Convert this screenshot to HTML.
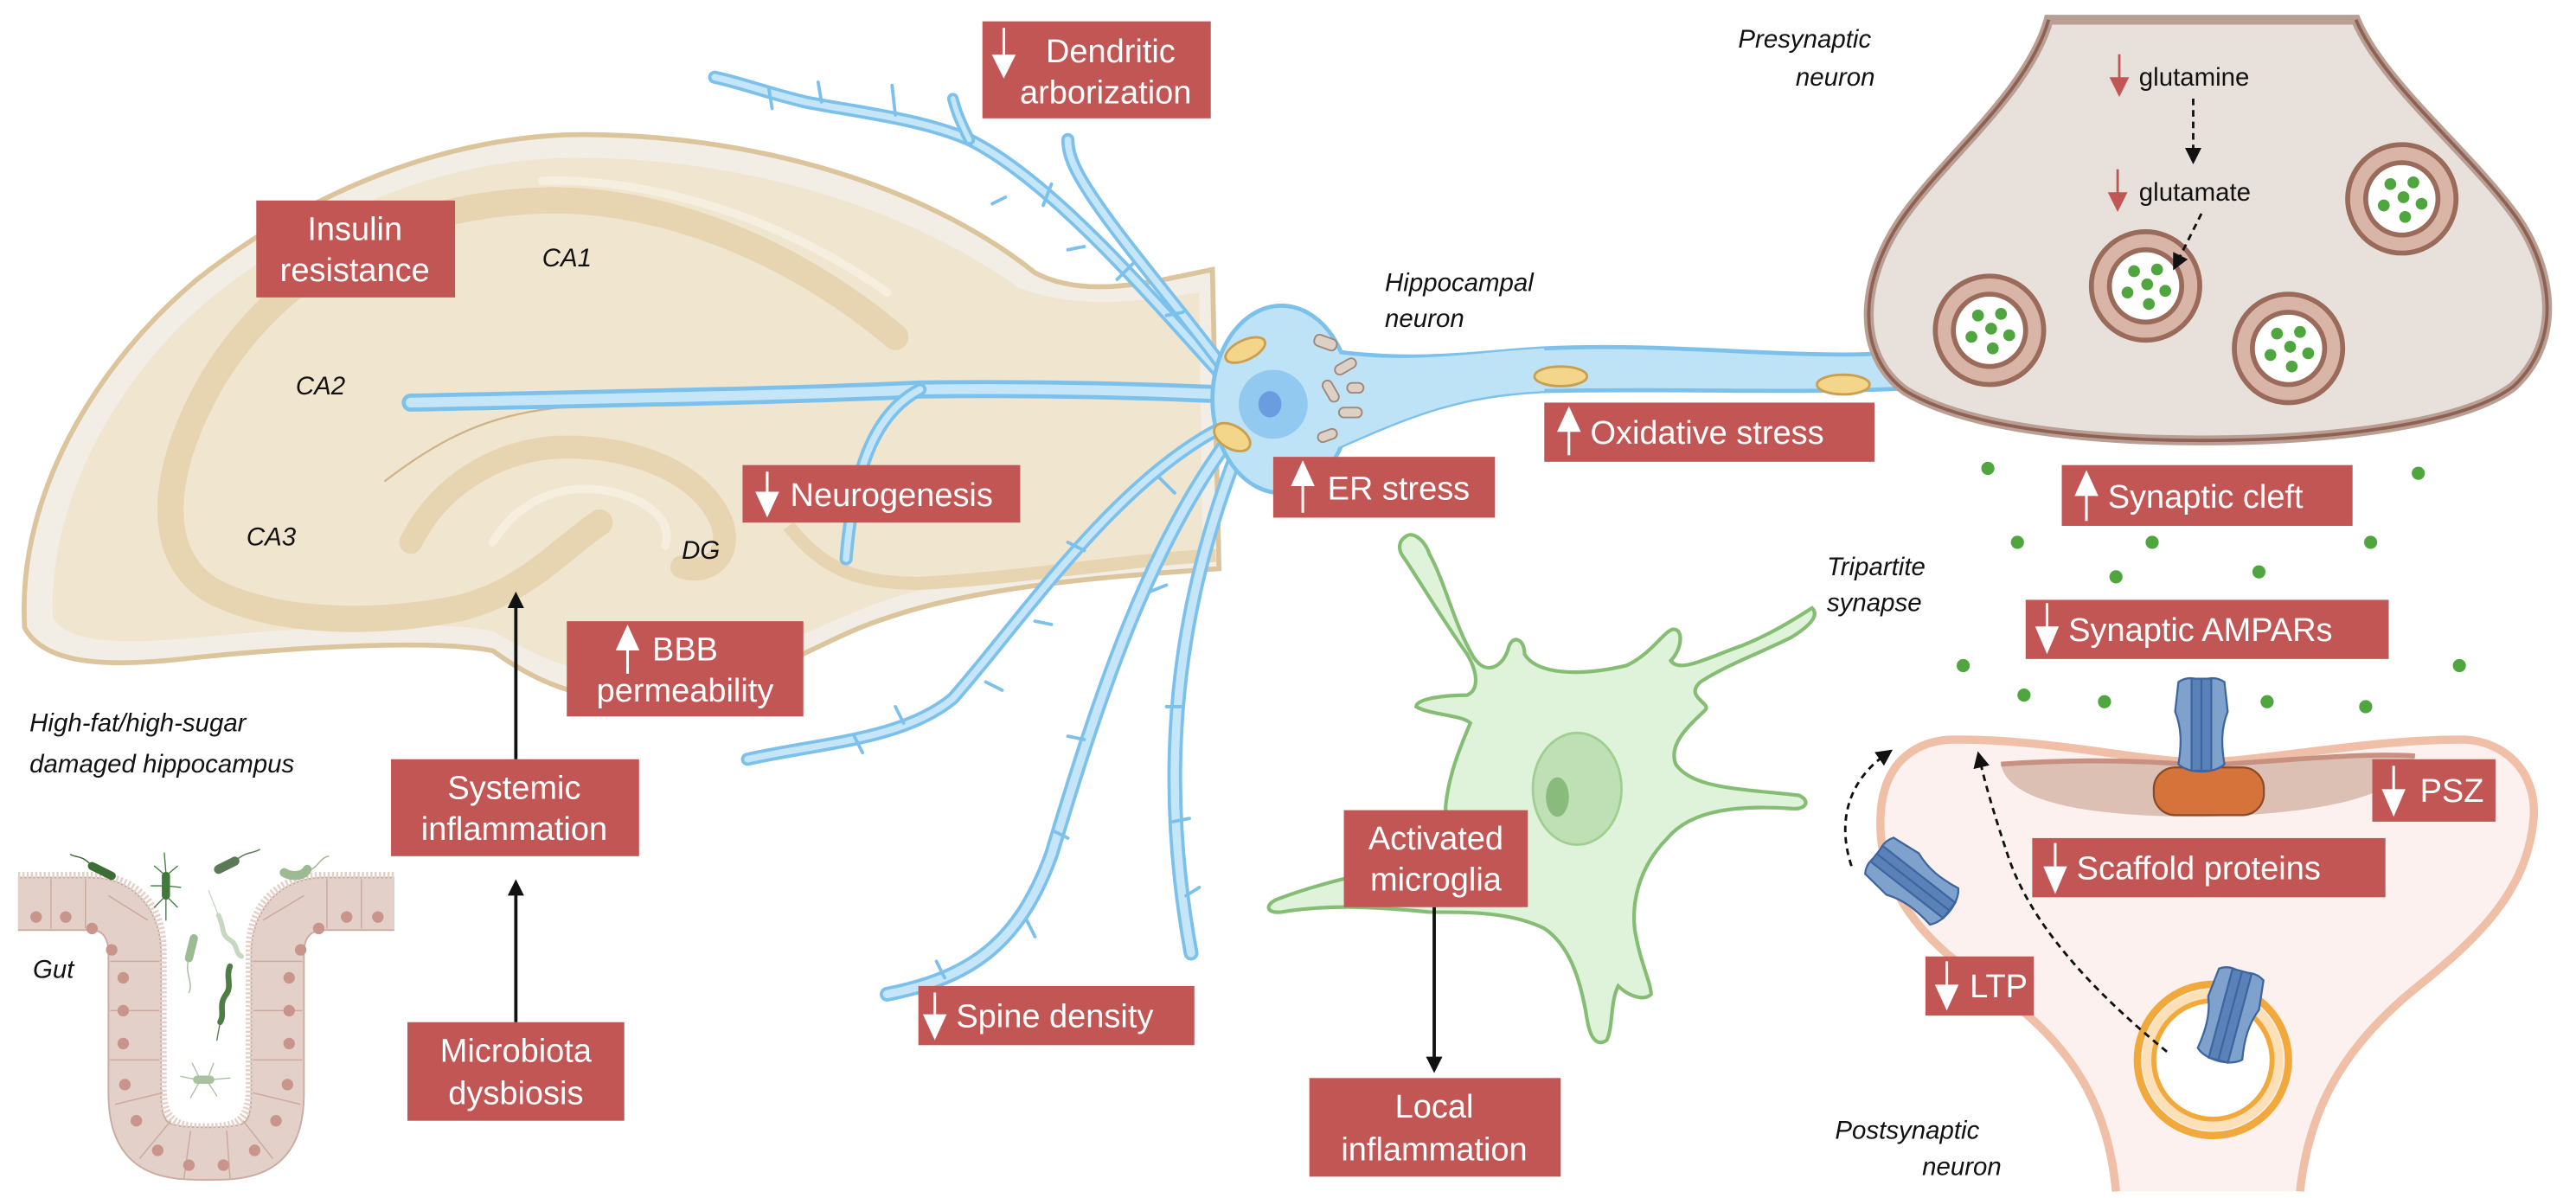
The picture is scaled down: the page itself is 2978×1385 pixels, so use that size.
<!DOCTYPE html>
<html><head><meta charset="utf-8"><style>
html,body{margin:0;padding:0;background:#fff;}
svg{display:block;}
.bx{fill:#c25655;}
.bt{font-family:"Liberation Sans",sans-serif;font-size:20px;fill:#fff;}
.it{font-family:"Liberation Sans",sans-serif;font-size:15.5px;font-style:italic;fill:#111;}
.d1{fill:none;stroke:#7cc0ec;stroke-linecap:round;stroke-linejoin:round;}
.d2{fill:none;stroke:#c4e6f8;stroke-linecap:round;stroke-linejoin:round;}
.wa{stroke:#fff;stroke-width:1.6;fill:#fff;}
</style></head><body>
<svg width="2978" height="1385" viewBox="0 0 1568 729" preserveAspectRatio="none" xmlns="http://www.w3.org/2000/svg">
<defs>
<marker id="ah" markerWidth="10" markerHeight="10" refX="5" refY="5" orient="auto" markerUnits="userSpaceOnUse"><path d="M0,0 L10,5 L0,10 z" fill="#111"/></marker>
<g id="ves"><circle r="33" fill="#d8b5a6" stroke="#9a6a5a" stroke-width="3"/><circle r="22" fill="#fff" stroke="#9a6a5a" stroke-width="3"/><g fill="#4fa63f"><circle cx="-7" cy="-9" r="3.6"/><circle cx="7" cy="-10" r="3.6"/><circle cx="1" cy="-1" r="3.6"/><circle cx="-11" cy="4" r="3.6"/><circle cx="12" cy="3" r="3.6"/><circle cx="2" cy="11" r="3.6"/></g></g>
<g id="amp" fill="#7fa2cc" stroke="#3d66a0" stroke-width="1.2"><path d="M-14,-28 C-8,-32 -2,-30 0,-28 C2,-30 8,-32 14,-28 L16,-10 C12,0 12,10 14,22 C8,28 -8,28 -14,22 C-12,10 -12,0 -16,-10 Z"/><path d="M-6,-30 L6,-30 L6,26 L-6,26 Z" fill="#5a82b8"/><line x1="0" y1="-30" x2="0" y2="26"/></g>
</defs>

<!-- Hippocampus -->
<path d="M15,382 C10,300 60,220 120,170 C190,115 270,85 345,82 C450,80 560,110 630,166 C660,182 700,172 738,164 L742,346 C690,350 600,355 540,376 C500,388 460,420 400,426 C360,428 330,418 300,396 C270,390 200,392 120,400 C70,406 28,406 15,382 Z" fill="#f3eee5" stroke="#dcc49c" stroke-width="3"/>
<path d="M32,375 C30,300 75,225 130,180 C200,125 270,98 345,96 C450,95 550,125 620,175 C660,190 700,182 730,178 L732,338 C690,340 600,345 540,365 C500,378 460,405 400,412 C360,414 330,402 300,384 C270,378 200,380 120,388 C75,392 40,392 32,375 Z" fill="#f0e5cf"/>
<path d="M545,205 C480,150 400,120 330,122 C240,125 170,165 130,230 C95,290 95,340 130,360 C170,380 230,380 280,370 C320,360 340,335 365,318" fill="none" stroke="#e6d5b0" stroke-width="16" stroke-linecap="round"/>
<path d="M540,178 C480,135 400,108 330,110" fill="none" stroke="#f6efe0" stroke-width="5" stroke-linecap="round"/>
<path d="M250,330 C270,290 310,272 345,272 C390,272 430,290 440,320 C445,340 430,350 415,345" fill="none" stroke="#e6d5b0" stroke-width="14" stroke-linecap="round"/>
<path d="M300,330 C315,305 340,295 365,298 C395,302 410,318 405,332" fill="none" stroke="#f6efe0" stroke-width="5" stroke-linecap="round"/>
<path d="M234,293 C270,265 300,252 341,248" fill="none" stroke="#cfb48a" stroke-width="1.2"/>
<path d="M480,320 C500,345 520,355 560,355 C620,352 690,340 740,338" fill="none" stroke="#e6d5b0" stroke-width="8"/>

<!-- dendrites -->
<g>
<path class="d1" stroke-width="11" d="M250,245 C400,242 500,240 560,237 C640,236 700,238 745,240"/><path class="d2" stroke-width="6" d="M250,245 C400,242 500,240 560,237 C640,236 700,238 745,240"/>
<path class="d1" stroke-width="8" d="M745,230 C700,180 640,110 590,85 C560,72 520,68 490,62 C465,56 450,50 435,47"/><path class="d2" stroke-width="4" d="M745,230 C700,180 640,110 590,85 C560,72 520,68 490,62 C465,56 450,50 435,47"/>
<path class="d1" stroke-width="8" d="M748,228 C720,190 685,150 665,120 C655,105 650,95 650,85"/><path class="d2" stroke-width="4" d="M748,228 C720,190 685,150 665,120 C655,105 650,95 650,85"/>
<path class="d1" stroke-width="7" d="M590,85 C585,75 582,68 580,60"/><path class="d2" stroke-width="3" d="M590,85 C585,75 582,68 580,60"/>
<path class="d1" stroke-width="8" d="M560,237 C535,250 520,280 515,340"/><path class="d2" stroke-width="4" d="M560,237 C535,250 520,280 515,340"/>
<path class="d1" stroke-width="8" d="M748,258 C680,290 620,380 580,425 C550,450 500,452 455,462"/><path class="d2" stroke-width="4" d="M748,258 C680,290 620,380 580,425 C550,450 500,452 455,462"/>
<path class="d1" stroke-width="9" d="M752,262 C700,330 670,420 640,520 C620,575 590,595 540,605"/><path class="d2" stroke-width="5" d="M752,262 C700,330 670,420 640,520 C620,575 590,595 540,605"/>
<path class="d1" stroke-width="9" d="M756,268 C715,370 705,470 725,580"/><path class="d2" stroke-width="5" d="M756,268 C715,370 705,470 725,580"/>
<g stroke="#7cc0ec" stroke-width="2" fill="none" stroke-linecap="round">
<path d="M545,70 L543,52"/><path d="M500,62 L498,50"/><path d="M468,54 L470,66"/><path d="M612,120 L604,124"/><path d="M635,125 L640,112"/><path d="M660,150 L650,152"/><path d="M680,170 L690,160"/><path d="M720,190 L710,192"/><path d="M705,290 L715,300"/><path d="M660,335 L650,330"/><path d="M640,380 L630,378"/><path d="M610,420 L600,415"/><path d="M550,440 L545,430"/><path d="M520,448 L525,458"/><path d="M660,450 L650,448"/><path d="M650,510 L642,506"/><path d="M625,560 L630,570"/><path d="M575,595 L570,585"/><path d="M700,360 L710,356"/><path d="M710,430 L720,430"/><path d="M714,500 L724,498"/><path d="M722,545 L730,540"/>
</g>
</g>
<!-- soma & axon -->
<path d="M800,212 C860,222 900,214 940,212 C1020,208 1100,220 1162,214 L1166,236 C1100,240 1020,236 940,238 C890,240 860,252 815,272 Z" fill="#bfe3f6" stroke="#7cc0ec" stroke-width="2.5"/>
<ellipse cx="780" cy="243" rx="42" ry="57" fill="#bfe3f6" stroke="#7cc0ec" stroke-width="2.5"/>
<path d="M812,215 C860,222 900,214 940,212 L940,238 C890,240 860,252 815,272 Z" fill="#bfe3f6"/>
<circle cx="775" cy="246" r="21" fill="#92c9f0"/>
<ellipse cx="773" cy="246" rx="7" ry="8" fill="#6a9de0"/>
<g fill="#ddd0c6" stroke="#a08878" stroke-width="1"><rect x="800" y="205" width="14" height="7" rx="3" transform="rotate(20 807 208)"/><rect x="812" y="220" width="14" height="6" rx="3" transform="rotate(-30 819 223)"/><rect x="803" y="235" width="14" height="6" rx="3" transform="rotate(60 810 238)"/><rect x="815" y="248" width="14" height="6" rx="3"/><rect x="802" y="262" width="12" height="6" rx="3" transform="rotate(-20 808 265)"/><rect x="820" y="233" width="10" height="6" rx="3"/></g>
<g fill="#f3d68a" stroke="#caa050" stroke-width="1.5"><ellipse cx="758" cy="213" rx="13" ry="6" transform="rotate(-25 758 213)"/><ellipse cx="750" cy="266" rx="12" ry="7" transform="rotate(30 750 266)"/><ellipse cx="950" cy="229" rx="16" ry="6"/><ellipse cx="1122" cy="234" rx="16" ry="6"/></g>

<!-- presynaptic -->
<path d="M1247,12 C1235,55 1185,95 1160,130 C1132,168 1128,215 1160,238 C1200,262 1280,268 1340,268 C1420,268 1500,258 1530,235 C1562,205 1552,160 1530,130 C1500,90 1450,50 1434,12 Z" fill="#e8e0da" stroke="#b89e93" stroke-width="6"/>
<path d="M1247,12 C1235,55 1185,95 1160,130 C1132,168 1128,215 1160,238 C1200,262 1280,268 1340,268 C1420,268 1500,258 1530,235 C1562,205 1552,160 1530,130 C1500,90 1450,50 1434,12" fill="none" stroke="#8e6152" stroke-width="2"/>
<use href="#ves" x="1211" y="201"/><use href="#ves" x="1306" y="174"/><use href="#ves" x="1393" y="212"/><use href="#ves" x="1462" y="121"/>
<text class="it" x="1302" y="52" style="font-style:normal" font-size="16">glutamine</text>
<text class="it" x="1302" y="122" style="font-style:normal" font-size="16">glutamate</text>
<path d="M1290,33 L1290,50" stroke="#c25655" stroke-width="1.5"/><path d="M1284,47 L1290,59 L1296,47 Z" fill="#c25655"/>
<path d="M1289,103 L1289,120" stroke="#c25655" stroke-width="1.5"/><path d="M1283,117 L1289,129 L1295,117 Z" fill="#c25655"/>
<path d="M1335,60 L1335,95" stroke="#111" stroke-width="1.5" stroke-dasharray="4,3" marker-end="url(#ah)"/>
<path d="M1340,130 L1325,160" stroke="#111" stroke-width="1.5" stroke-dasharray="4,3" marker-end="url(#ah)"/>
<!-- cleft dots -->
<g fill="#4fa63f"><circle cx="1210" cy="285" r="4"/><circle cx="1472" cy="288" r="4"/><circle cx="1228" cy="330" r="4"/><circle cx="1310" cy="330" r="4"/><circle cx="1443" cy="330" r="4"/><circle cx="1375" cy="348" r="4"/><circle cx="1288" cy="351" r="4"/><circle cx="1195" cy="405" r="4"/><circle cx="1497" cy="405" r="4"/><circle cx="1232" cy="423" r="4"/><circle cx="1281" cy="427" r="4"/><circle cx="1380" cy="427" r="4"/><circle cx="1440" cy="430" r="4"/></g>

<!-- postsynaptic -->
<path d="M1288,725 C1282,660 1250,625 1200,592 C1155,560 1142,525 1145,492 C1148,462 1168,450 1190,450 C1250,450 1300,463 1340,464 C1380,463 1440,450 1500,450 C1530,452 1545,475 1542,500 C1538,540 1512,568 1472,600 C1422,640 1405,680 1400,725" fill="#fcf1ee" stroke="#f0bfa8" stroke-width="5"/>
<path d="M1218,465 C1290,460 1340,465 1340,465 C1400,462 1440,458 1470,460 C1465,480 1430,495 1340,497 C1270,497 1222,488 1218,465 Z" fill="#dcc0b4"/>
<path d="M1218,465 C1290,460 1340,466 1340,466 C1400,462 1440,458 1470,460" fill="none" stroke="#c89080" stroke-width="3"/>
<rect x="1311" y="467" width="67" height="29" rx="13" fill="#d6733a" stroke="#8a4a2a" stroke-width="1.2"/>
<use href="#amp" x="1340" y="443"/>
<circle cx="1347" cy="645" r="46" fill="none" stroke="#f0a93a" stroke-width="4.5"/>
<circle cx="1347" cy="645" r="40" fill="none" stroke="#fde0b8" stroke-width="6"/>
<circle cx="1347" cy="645" r="36" fill="#fff" stroke="#f0a93a" stroke-width="3"/>
<use href="#amp" transform="translate(1357,620) rotate(15)"/>
<use href="#amp" transform="translate(1166,538) rotate(-52)"/>
<path d="M1127,527 C1118,500 1125,475 1148,459" fill="none" stroke="#111" stroke-width="1.5" stroke-dasharray="4,3" marker-end="url(#ah)"/>
<path d="M1319,640 C1270,600 1235,560 1222,520 C1212,490 1208,475 1205,462" fill="none" stroke="#111" stroke-width="1.5" stroke-dasharray="4,3" marker-end="url(#ah)"/>

<!-- microglia -->
<path d="M855,327 C860,322 868,330 870,337 C880,355 885,380 897,400 C905,412 915,405 918,395 C920,386 928,388 928,398 C935,410 960,412 990,405 C1005,398 1012,385 1018,383 C1025,382 1024,395 1017,402 C1022,410 1040,400 1060,393 C1080,385 1095,375 1103,370 C1108,375 1100,382 1090,388 C1070,398 1050,405 1035,415 C1025,424 1042,428 1038,432 C1030,440 1015,452 1020,465 C1030,480 1060,480 1095,484 C1102,487 1100,493 1090,492 C1060,490 1030,492 1015,510 C1000,525 993,545 995,565 C998,585 1005,598 1005,605 C1000,610 990,605 985,600 C980,610 982,625 978,633 C972,637 968,632 966,620 C962,595 955,575 940,565 C920,555 895,555 870,555 C840,552 810,550 780,555 C770,556 770,550 778,547 C810,535 840,530 862,525 C875,520 880,505 880,490 C882,470 890,452 895,440 C890,435 870,435 862,430 C862,425 880,423 893,423 C900,420 900,410 893,398 C880,380 865,355 855,340 C850,334 852,329 855,327 Z" fill="#def3da" stroke="#86bd74" stroke-width="2.2"/>
<ellipse cx="960" cy="480" rx="27" ry="34" fill="#bfe0b5" stroke="#a0cf92" stroke-width="1.5"/>
<ellipse cx="948" cy="485" rx="7" ry="12" fill="#88bb7c"/>

<!-- gut -->
<path d="M11,550 L55,550 C72,550 82,562 82,580 L82,665 C82,700 100,702 126,702 C152,702 169,700 169,665 L169,580 C169,562 180,550 197,550 L240,550" fill="none" stroke="#ccaaa0" stroke-width="33"/>
<path d="M11,550 L55,550 C72,550 82,562 82,580 L82,665 C82,700 100,702 126,702 C152,702 169,700 169,665 L169,580 C169,562 180,550 197,550 L240,550" fill="none" stroke="#e3d0c8" stroke-width="31"/>
<path d="M11,533 L55,533 C82,533 99,550 99,578 L99,662 C99,684 110,686 126,686 C142,686 152,684 152,662 L152,578 C152,550 170,533 197,533 L240,533" fill="none" stroke="#e3d0c8" stroke-width="5" stroke-dasharray="1.3,1.3"/>
<g stroke="#ccaaa0" stroke-width="0.8"><line x1="31" y1="535" x2="31" y2="565"/><line x1="52" y1="535" x2="52" y2="565"/><line x1="66" y1="545" x2="90" y2="560"/><line x1="67" y1="585" x2="97" y2="585"/><line x1="67" y1="615" x2="97" y2="615"/><line x1="67" y1="645" x2="97" y2="645"/><line x1="70" y1="672" x2="99" y2="665"/><line x1="85" y1="705" x2="104" y2="682"/><line x1="112" y1="717" x2="116" y2="688"/><line x1="140" y1="717" x2="138" y2="688"/><line x1="166" y1="705" x2="148" y2="682"/><line x1="154" y1="665" x2="183" y2="672"/><line x1="154" y1="645" x2="184" y2="645"/><line x1="154" y1="615" x2="184" y2="615"/><line x1="154" y1="585" x2="184" y2="585"/><line x1="160" y1="560" x2="185" y2="545"/><line x1="199" y1="535" x2="199" y2="565"/><line x1="220" y1="535" x2="220" y2="565"/></g>
<g fill="#c9958a"><circle cx="22" cy="558" r="3.5"/><circle cx="40" cy="558" r="3.5"/><circle cx="56" cy="565" r="3.5"/><circle cx="68" cy="578" r="3.5"/><circle cx="75" cy="595" r="3.5"/><circle cx="75" cy="615" r="3.5"/><circle cx="75" cy="635" r="3.5"/><circle cx="76" cy="660" r="3.5"/><circle cx="83" cy="682" r="3.5"/><circle cx="96" cy="700" r="3.5"/><circle cx="115" cy="709" r="3.5"/><circle cx="136" cy="709" r="3.5"/><circle cx="155" cy="700" r="3.5"/><circle cx="168" cy="682" r="3.5"/><circle cx="175" cy="660" r="3.5"/><circle cx="176" cy="635" r="3.5"/><circle cx="176" cy="615" r="3.5"/><circle cx="176" cy="595" r="3.5"/><circle cx="183" cy="578" r="3.5"/><circle cx="194" cy="565" r="3.5"/><circle cx="211" cy="558" r="3.5"/><circle cx="230" cy="558" r="3.5"/></g>
<g stroke-linecap="round" fill="none">
<path d="M56,527 L68,533" stroke="#3b6e32" stroke-width="5"/><path d="M56,527 C50,520 46,522 43,520" stroke="#3b6e32" stroke-width="0.8"/>
<path d="M101,533 L101,545" stroke="#3f7a3a" stroke-width="5"/><g stroke="#3f7a3a" stroke-width="0.7"><path d="M101,533 L94,527"/><path d="M101,533 L108,527"/><path d="M101,539 L92,539"/><path d="M101,539 L110,540"/><path d="M101,545 L94,552"/><path d="M101,545 L108,552"/><path d="M101,531 L100,519"/><path d="M101,547 L101,560"/></g>
<path d="M133,529 L143,524" stroke="#5a7a55" stroke-width="5.5"/><path d="M143,524 C150,518 152,520 158,517" stroke="#5a7a55" stroke-width="0.8"/>
<path d="M173,531 C178,534 185,533 187,529" stroke="#9cbb92" stroke-width="5.5"/><path d="M187,529 C193,530 194,522 200,521" stroke="#9cbb92" stroke-width="0.8"/>
<path d="M133,557 C137,565 134,568 140,572 C145,575 143,580 147,582" stroke="#c6d8c0" stroke-width="3"/><path d="M133,557 L127,542" stroke="#c6d8c0" stroke-width="0.7"/>
<path d="M118,571 L115,583" stroke="#9cbb92" stroke-width="5"/><path d="M115,583 C112,592 118,598 115,604" stroke="#9cbb92" stroke-width="0.7"/>
<path d="M140,588 C137,595 142,600 137,606 C133,612 137,617 134,622" stroke="#4e7e45" stroke-width="3.5"/><path d="M134,622 L132,633" stroke="#4e7e45" stroke-width="0.7"/>
<path d="M120,657 L128,657" stroke="#a7c2a0" stroke-width="5"/><g stroke="#a7c2a0" stroke-width="0.7"><path d="M120,657 L110,655"/><path d="M128,657 L140,656"/><path d="M121,655 L117,647"/><path d="M127,655 L130,647"/><path d="M121,659 L116,668"/><path d="M127,659 L132,667"/></g>
</g>

<!-- arrows -->
<line x1="314" y1="622" x2="314" y2="540" stroke="#111" stroke-width="2" marker-end="url(#ah)"/>
<line x1="314" y1="462" x2="314" y2="365" stroke="#111" stroke-width="2" marker-end="url(#ah)"/>
<line x1="873" y1="552" x2="873" y2="648" stroke="#111" stroke-width="2" marker-end="url(#ah)"/>

<!-- boxes -->
<g>
<rect class="bx" x="598" y="13" width="139" height="59"/><text class="bt" x="676" y="38" text-anchor="middle">Dendritic</text><text class="bt" x="673" y="63" text-anchor="middle">arborization</text>
<line class="wa" x1="611" y1="17" x2="611" y2="36"/><path class="wa" d="M605,34 L611,46 L617,34 Z"/>
<rect class="bx" x="156" y="122" width="121" height="59"/><text class="bt" x="216" y="146" text-anchor="middle">Insulin</text><text class="bt" x="216" y="171" text-anchor="middle">resistance</text>
<rect class="bx" x="452" y="283" width="169" height="35"/><text class="bt" x="481" y="308">Neurogenesis</text>
<line class="wa" x1="467" y1="287" x2="467" y2="303"/><path class="wa" d="M461,300 L467,313 L473,300 Z"/>
<rect class="bx" x="345" y="378" width="144" height="58"/><text class="bt" x="397" y="402">BBB</text><text class="bt" x="417" y="427" text-anchor="middle">permeability</text>
<line class="wa" x1="382" y1="394" x2="382" y2="410"/><path class="wa" d="M376,395 L382,382 L388,395 Z"/>
<rect class="bx" x="238" y="462" width="151" height="59"/><text class="bt" x="313" y="486" text-anchor="middle">Systemic</text><text class="bt" x="313" y="511" text-anchor="middle">inflammation</text>
<rect class="bx" x="248" y="622" width="132" height="60"/><text class="bt" x="314" y="646" text-anchor="middle">Microbiota</text><text class="bt" x="314" y="672" text-anchor="middle">dysbiosis</text>
<rect class="bx" x="559" y="600" width="168" height="36"/><text class="bt" x="582" y="625">Spine density</text>
<line class="wa" x1="569" y1="604" x2="569" y2="620"/><path class="wa" d="M563,618 L569,631 L575,618 Z"/>
<rect class="bx" x="775" y="278" width="135" height="37"/><text class="bt" x="808" y="304">ER stress</text>
<line class="wa" x1="793" y1="294" x2="793" y2="312"/><path class="wa" d="M787,295 L793,282 L799,295 Z"/>
<rect class="bx" x="940" y="245" width="201" height="36"/><text class="bt" x="968" y="270">Oxidative stress</text>
<line class="wa" x1="955" y1="261" x2="955" y2="277"/><path class="wa" d="M949,262 L955,249 L961,262 Z"/>
<rect class="bx" x="818" y="493" width="112" height="59"/><text class="bt" x="874" y="517" text-anchor="middle">Activated</text><text class="bt" x="874" y="542" text-anchor="middle">microglia</text>
<rect class="bx" x="797" y="656" width="153" height="60"/><text class="bt" x="873" y="680" text-anchor="middle">Local</text><text class="bt" x="873" y="706" text-anchor="middle">inflammation</text>
<rect class="bx" x="1255" y="283" width="177" height="37"/><text class="bt" x="1283" y="309">Synaptic cleft</text>
<line class="wa" x1="1270" y1="300" x2="1270" y2="317"/><path class="wa" d="M1264,301 L1270,288 L1276,301 Z"/>
<rect class="bx" x="1233" y="365" width="221" height="36"/><text class="bt" x="1259" y="390">Synaptic AMPARs</text>
<line class="wa" x1="1246" y1="367" x2="1246" y2="384"/><path class="wa" d="M1240,382 L1246,396 L1252,382 Z"/>
<rect class="bx" x="1444" y="462" width="75" height="38"/><text class="bt" x="1473" y="488">PSZ</text>
<line class="wa" x1="1457" y1="466" x2="1457" y2="483"/><path class="wa" d="M1451,481 L1457,495 L1463,481 Z"/>
<rect class="bx" x="1237" y="510" width="215" height="36"/><text class="bt" x="1264" y="535">Scaffold proteins</text>
<line class="wa" x1="1251" y1="513" x2="1251" y2="530"/><path class="wa" d="M1245,528 L1251,542 L1257,528 Z"/>
<rect class="bx" x="1172" y="582" width="66" height="36"/><text class="bt" x="1199" y="607">LTP</text>
<line class="wa" x1="1185" y1="585" x2="1185" y2="602"/><path class="wa" d="M1179,600 L1185,613 L1191,600 Z"/>
</g>
<!-- italic labels -->
<text class="it" x="330" y="162">CA1</text>
<text class="it" x="180" y="240">CA2</text>
<text class="it" x="150" y="332">CA3</text>
<text class="it" x="415" y="340">DG</text>
<text class="it" x="18" y="445">High-fat/high-sugar</text>
<text class="it" x="18" y="470">damaged hippocampus</text>
<text class="it" x="20" y="595">Gut</text>
<text class="it" x="843" y="177">Hippocampal</text>
<text class="it" x="843" y="199">neuron</text>
<text class="it" x="1058" y="29">Presynaptic</text>
<text class="it" x="1093" y="52">neuron</text>
<text class="it" x="1112" y="350">Tripartite</text>
<text class="it" x="1112" y="372">synapse</text>
<text class="it" x="1117" y="693">Postsynaptic</text>
<text class="it" x="1170" y="715">neuron</text>
</svg>
</body></html>
